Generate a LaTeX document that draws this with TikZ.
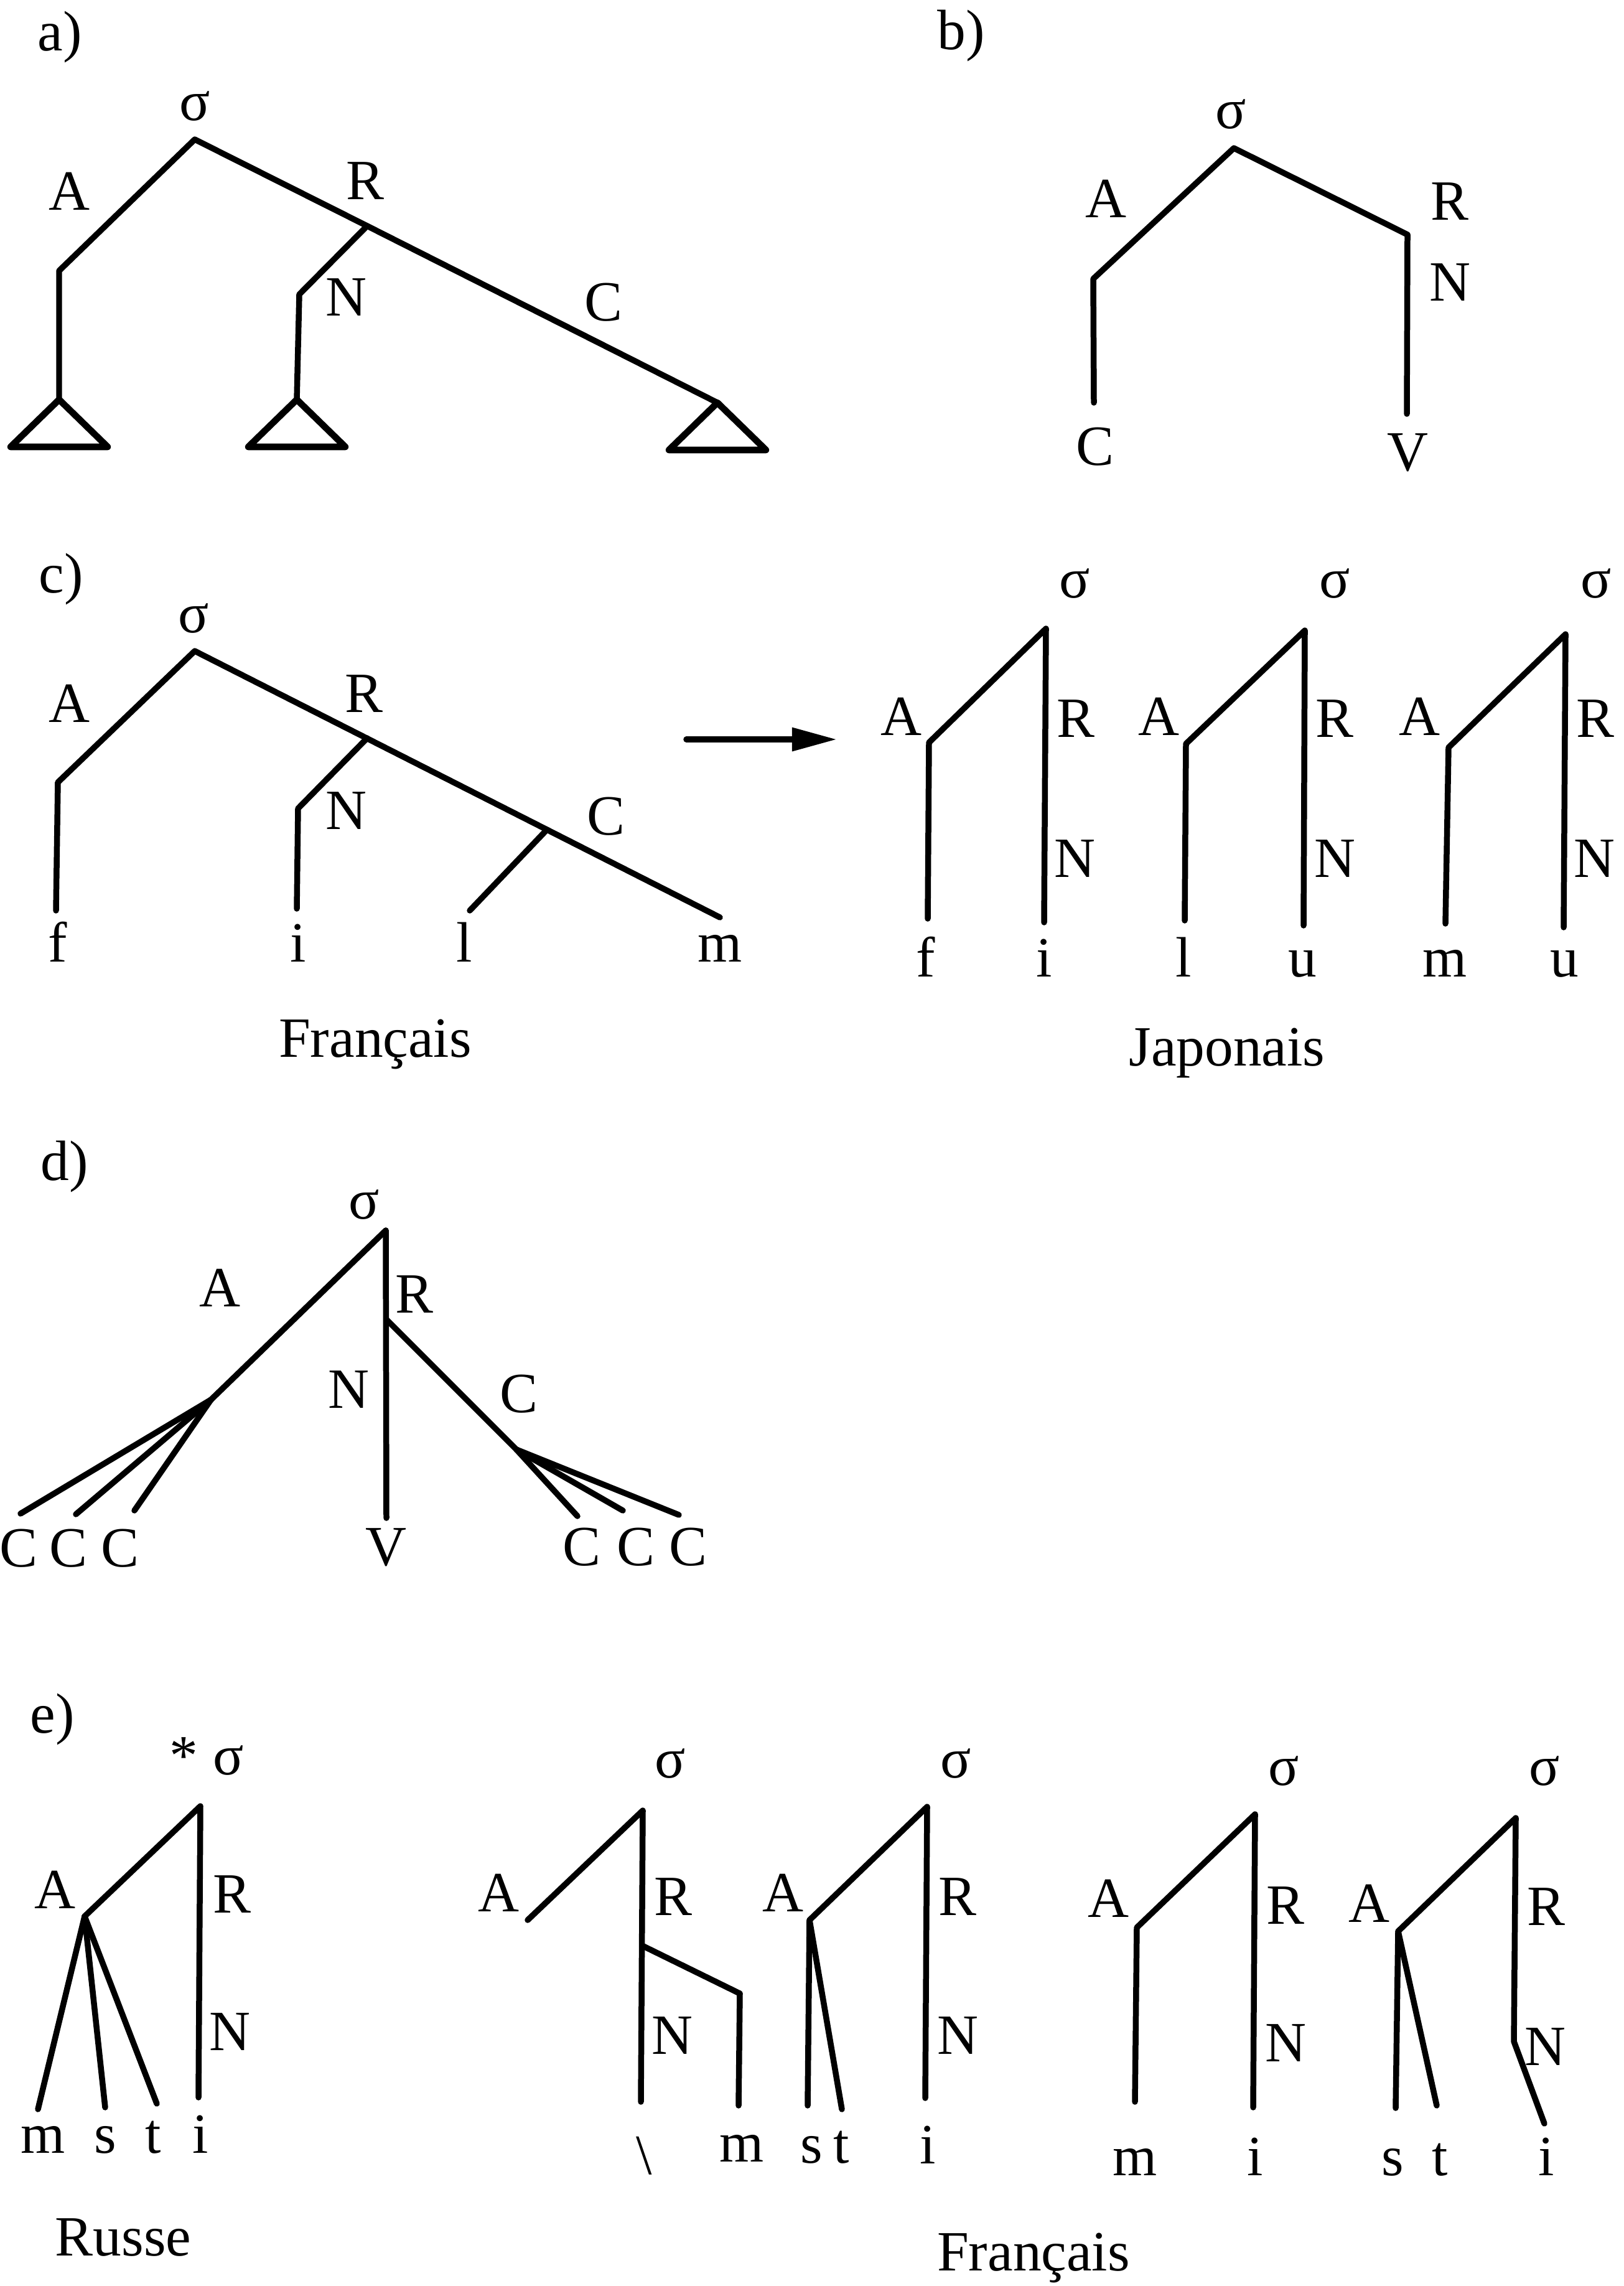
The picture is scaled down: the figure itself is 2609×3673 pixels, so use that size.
\documentclass[tikz,border=0pt]{standalone}
\usepackage{fontspec}
\setmainfont{Liberation Serif}
\usepackage{tikz}
\usetikzlibrary{arrows.meta}
\newcommand{\labfont}{\fontsize{26}{30}\selectfont}
\tikzset{
  >={Triangle[length=0.72cm,width=0.36cm]},
  br/.style={line width=2.7pt,line cap=round,line join=round},
  lab/.style={inner sep=0pt,anchor=base,font=\labfont},
  tag/.style={lab,anchor=base west},
  tri/.pic={\draw[br,line width=3pt] (0,0) -- (-78,76) -- (78,76) -- cycle;},
}

\begin{document}
\begin{tikzpicture}[x=0.01cm,y=-0.01cm]
\useasboundingbox (0,0) rectangle (2609,3673);

% a) general template
\node[tag] (ta) at (60,82) {a)};
\node[lab] (aSig) at (313,194) {σ};
\coordinate (aS) at (313,224);
\coordinate (aA1) at (95,435);
\coordinate (aA2) at (95,642);
\coordinate (aR1) at (590,363);
\coordinate (aN1) at (481,473);
\coordinate (aN2) at (477,642);
\coordinate (aC1) at (1153,647);
\draw[br] (aA2) -- (aA1) -- (aS) -- (aR1) -- (aC1);
\draw[br] (aR1) -- (aN1) -- (aN2);
\pic at (aA2) {tri}; \pic at (aN2) {tri}; \pic at (aC1) {tri};
\node[lab] (aA) at (112,338) {A};
\node[lab] (aR) at (587,321) {R};
\node[lab] (aN) at (557,507) {N};
\node[lab] (aC) at (970,515) {C};

% b) CV
\node[tag] (tb) at (1506,80) {b)};
\node[lab] (bSig) at (1978,207) {σ};
\coordinate (bS) at (1983,238);
\coordinate (bA1) at (1757,448);
\coordinate (bA2) at (1758,647);
\coordinate (bR1) at (2262,377);
\coordinate (bR2) at (2261,665);
\draw[br] (bA2) -- (bA1) -- (bS) -- (bR1) -- (bR2);
\node[lab] (bA) at (1777,350) {A};
\node[lab] (bR) at (2330,354) {R};
\node[lab] (bN) at (2330,484) {N};
\node[lab] (bC) at (1760,747) {C};
\node[lab] (bV) at (2262,756) {V};

% c) left: one syllable
\node[tag] (tc) at (62,952) {c)};
\node[lab] (cSig) at (311,1016) {σ};
\coordinate (cS) at (313,1046);
\coordinate (cA1) at (93,1257);
\coordinate (cA2) at (90,1463);
\coordinate (cM) at (1157,1474);
\coordinate (cR1) at (590,1186);
\coordinate (cN1) at (479,1299);
\coordinate (cN2) at (477,1460);
\coordinate (cC1) at (879,1333);
\coordinate (cL) at (755,1463);
\draw[br] (cA2) -- (cA1) -- (cS) -- (cM);
\draw[br] (cR1) -- (cN1) -- (cN2);
\draw[br] (cC1) -- (cL);
\node[lab] (cA) at (112,1160) {A};
\node[lab] (cR) at (585,1144) {R};
\node[lab] (cN) at (557,1332) {N};
\node[lab] (cC) at (974,1341) {C};
\node[lab] (cf) at (93,1545) {f};
\node[lab] (ci) at (479,1545) {i};
\node[lab] (cl) at (746,1545) {l};
\node[lab] (cm) at (1157,1545) {m};
\node[lab] (cFr) at (603,1698) {Français};

\coordinate (arS) at (1103,1188);
\coordinate (arE) at (1345,1188);
\draw[br,->] (arS) -- (arE);

% c) right: three CV syllables
\node[lab] (j1Sig) at (1727,960) {σ};
\coordinate (j1S) at (1681,1010);
\coordinate (j1A1) at (1493,1193);
\coordinate (j1A2) at (1491,1476);
\coordinate (j1R2) at (1678,1482);
\draw[br] (j1A2) -- (j1A1) -- (j1S) -- (j1R2);
\node[lab] (j1A) at (1448,1181) {A};
\node[lab] (j1R) at (1729,1184) {R};
\node[lab] (j1N) at (1727,1409) {N};
\node[lab] (j1f) at (1488,1569) {f};
\node[lab] (j1i) at (1678,1569) {i};

\node[lab] (j2Sig) at (2145,960) {σ};
\coordinate (j2S) at (2097,1013);
\coordinate (j2A1) at (1906,1195);
\coordinate (j2A2) at (1904,1479);
\coordinate (j2R2) at (2095,1487);
\draw[br] (j2A2) -- (j2A1) -- (j2S) -- (j2R2);
\node[lab] (j2A) at (1862,1181) {A};
\node[lab] (j2R) at (2145,1184) {R};
\node[lab] (j2N) at (2145,1409) {N};
\node[lab] (j2l) at (1902,1569) {l};
\node[lab] (j2u) at (2093,1569) {u};

\node[lab] (j3Sig) at (2565,960) {σ};
\coordinate (j3S) at (2516,1019);
\coordinate (j3A1) at (2328,1201);
\coordinate (j3A2) at (2323,1484);
\coordinate (j3R2) at (2513,1490);
\draw[br] (j3A2) -- (j3A1) -- (j3S) -- (j3R2);
\node[lab] (j3A) at (2281,1181) {A};
\node[lab] (j3R) at (2564,1184) {R};
\node[lab] (j3N) at (2562,1409) {N};
\node[lab] (j3m) at (2322,1569) {m};
\node[lab] (j3u) at (2514,1569) {u};
\node[lab] (jJa) at (1972,1712) {Japonais};

% d) CCCVCCC
\node[tag] (td) at (65,1896) {d)};
\node[lab] (dSig) at (585,1958) {σ};
\coordinate (dS) at (620,1977);
\coordinate (dR1) at (621,2120);
\coordinate (dN2) at (621,2439);
\coordinate (dA0) at (339,2249);
\coordinate (dC0) at (830,2329);
\coordinate (dL1) at (33,2432);
\coordinate (dL2) at (122,2433);
\coordinate (dL3) at (216,2427);
\coordinate (dK1) at (928,2436);
\coordinate (dK2) at (1001,2427);
\coordinate (dK3) at (1091,2434);
\draw[br] (dS) -- (dN2);
\draw[br] (dS) -- (dA0);
\draw[br] (dR1) -- (dC0);
\draw[br] (dA0) -- (dL1); \draw[br] (dA0) -- (dL2); \draw[br] (dA0) -- (dL3);
\draw[br] (dC0) -- (dK1); \draw[br] (dC0) -- (dK2); \draw[br] (dC0) -- (dK3);
\node[lab] (dA) at (354,2099) {A};
\node[lab] (dR) at (666,2109) {R};
\node[lab] (dN) at (561,2262) {N};
\node[lab] (dC) at (834,2269) {C};
\node[lab] (dc1) at (30,2517) {C};
\node[lab] (dc2) at (110,2517) {C};
\node[lab] (dc3) at (193,2517) {C};
\node[lab] (dV) at (621,2515) {V};
\node[lab] (dc4) at (935,2515) {C};
\node[lab] (dc5) at (1022,2515) {C};
\node[lab] (dc6) at (1106,2515) {C};

% e) Russe
\node[tag] (te) at (48,2784) {e)};
\node[lab] (rStar) at (295,2851) {*};
\node[lab] (rSig) at (367,2851) {σ};
\coordinate (rS) at (322,2902);
\coordinate (rA0) at (136,3079);
\coordinate (rR2) at (319,3370);
\coordinate (rM) at (61,3389);
\coordinate (rS1) at (169,3386);
\coordinate (rT) at (252,3380);
\draw[br] (rA0) -- (rS) -- (rR2);
\draw[br] (rA0) -- (rM); \draw[br] (rA0) -- (rS1); \draw[br] (rA0) -- (rT);
\node[lab] (rA) at (89,3066) {A};
\node[lab] (rR) at (373,3073) {R};
\node[lab] (rN) at (370,3294) {N};
\node[lab] (rm) at (69,3459) {m};
\node[lab] (rs) at (169,3459) {s};
\node[lab] (rt) at (246,3459) {t};
\node[lab] (ri) at (322,3459) {i};
\node[lab] (rRu) at (198,3624) {Russe};

% e) Français
\node[lab] (f1Sig) at (1077,2856) {σ};
\coordinate (f1S) at (1033,2909);
\coordinate (f1A1) at (848,3085);
\coordinate (f1R2) at (1030,3377);
\coordinate (f1B0) at (1034,3127);
\coordinate (f1B1) at (1189,3203);
\coordinate (f1B2) at (1187,3383);
\draw[br] (f1A1) -- (f1S) -- (f1R2);
\draw[br] (f1B0) -- (f1B1) -- (f1B2);
\node[lab] (f1A) at (802,3071) {A};
\node[lab] (f1R) at (1082,3077) {R};
\node[lab] (f1N) at (1080,3300) {N};
\node[lab] (f1x) at (1035,3493) {\textbackslash};
\node[lab] (f1m) at (1192,3473) {m};

\node[lab] (f2Sig) at (1536,2856) {σ};
\coordinate (f2S) at (1490,2903);
\coordinate (f2A1) at (1301,3085);
\coordinate (f2A2) at (1298,3383);
\coordinate (f2A3) at (1353,3389);
\coordinate (f2R2) at (1487,3371);
\draw[br] (f2A2) -- (f2A1) -- (f2S) -- (f2R2);
\draw[br] (f2A1) -- (f2A3);
\node[lab] (f2A) at (1258,3071) {A};
\node[lab] (f2R) at (1539,3077) {R};
\node[lab] (f2N) at (1539,3300) {N};
\node[lab] (f2s) at (1304,3475) {s};
\node[lab] (f2t) at (1352,3475) {t};
\node[lab] (f2i) at (1491,3476) {i};

\node[lab] (f3Sig) at (2063,2868) {σ};
\coordinate (f3S) at (2017,2915);
\coordinate (f3A1) at (1827,3097);
\coordinate (f3A2) at (1824,3377);
\coordinate (f3R2) at (2014,3386);
\draw[br] (f3A2) -- (f3A1) -- (f3S) -- (f3R2);
\node[lab] (f3A) at (1781,3080) {A};
\node[lab] (f3R) at (2066,3091) {R};
\node[lab] (f3N) at (2066,3312) {N};
\node[lab] (f3m) at (1824,3495) {m};
\node[lab] (f3i) at (2017,3495) {i};

\node[lab] (f4Sig) at (2482,2868) {σ};
\coordinate (f4S) at (2436,2921);
\coordinate (f4A1) at (2247,3103);
\coordinate (f4A2) at (2243,3387);
\coordinate (f4A3) at (2309,3383);
\coordinate (f4R1) at (2433,3280);
\coordinate (f4R2) at (2482,3412);
\draw[br] (f4A2) -- (f4A1) -- (f4S) -- (f4R1) -- (f4R2);
\draw[br] (f4A1) -- (f4A3);
\node[lab] (f4A) at (2200,3088) {A};
\node[lab] (f4R) at (2485,3093) {R};
\node[lab] (f4N) at (2483,3318) {N};
\node[lab] (f4s) at (2238,3495) {s};
\node[lab] (f4t) at (2314,3495) {t};
\node[lab] (f4i) at (2485,3495) {i};
\node[lab] (fFr) at (1661,3648) {Français};
\end{tikzpicture}
\end{document}
